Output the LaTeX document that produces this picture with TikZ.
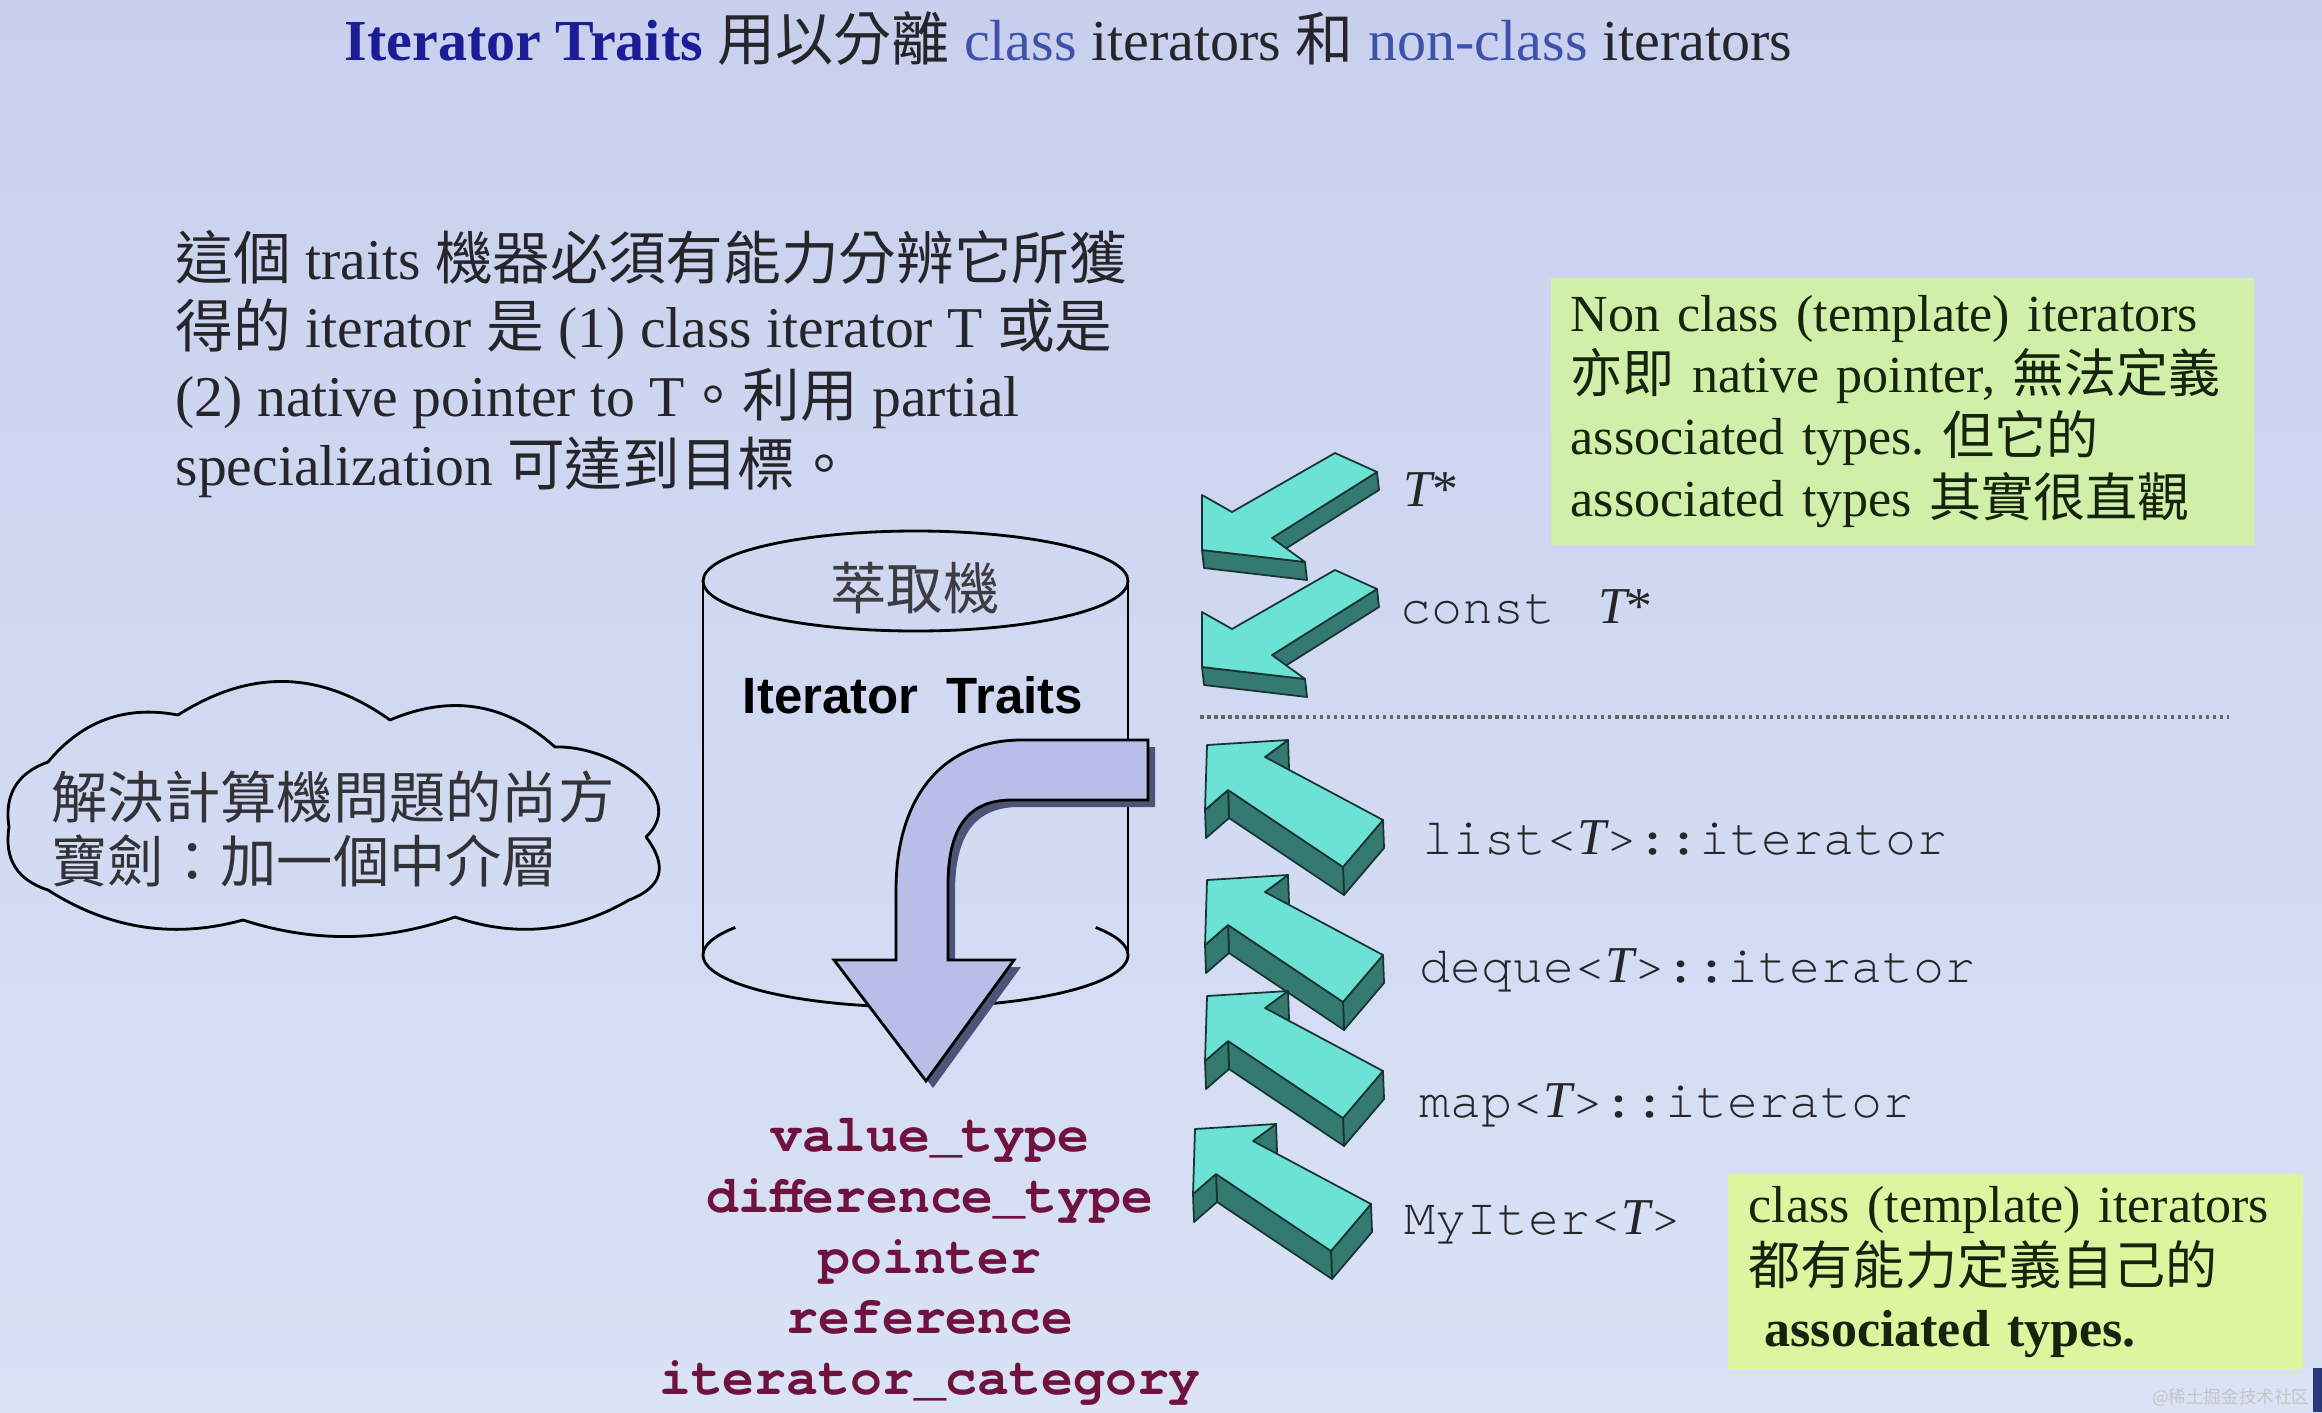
\documentclass[tikz,border=0pt]{standalone}
\usepackage{fontspec}
\setmainfont{Liberation Serif}
\setsansfont{Liberation Sans}
\setmonofont{texgyrecursor}[Extension=.otf, UprightFont=*-regular,
  BoldFont=*-bold, ItalicFont=*-italic, BoldItalicFont=*-bolditalic]
\newfontfamily\cjk{Noto Sans CJK TC}
\newfontfamily\cjksc{Noto Sans CJK SC}
\usepackage{tikz}
\usetikzlibrary{positioning}
\frenchspacing

\definecolor{bgtop}{RGB}{200,208,238}
\definecolor{bgbot}{RGB}{218,226,246}
\definecolor{titleblue}{RGB}{28,28,150}
\definecolor{wordblue}{RGB}{62,82,172}
\definecolor{inkgray}{RGB}{38,38,42}
\definecolor{cloudink}{RGB}{50,50,55}
\definecolor{cylink}{RGB}{60,60,66}
\definecolor{notegreen}{RGB}{208,240,170}
\definecolor{noteyellow}{RGB}{220,246,160}
\definecolor{noteink}{RGB}{22,36,14}
\definecolor{arrowface}{RGB}{108,226,212}
\definecolor{arrowside}{RGB}{52,122,112}
\definecolor{arrowline}{RGB}{24,52,50}
\definecolor{bendfill}{RGB}{184,190,232}
\definecolor{bendshade}{RGB}{78,84,120}
\definecolor{fieldred}{RGB}{112,18,62}
\definecolor{edgebar}{RGB}{40,56,120}

\newcommand{\zh}[1]{{\cjk #1}}
\newcommand{\tvar}{{\rmfamily\itshape T}}

\begin{document}
\begin{tikzpicture}[
    x=0.01cm, y=-0.01cm,
    txt/.style={inner sep=0pt, text=inkgray},
    para/.style={
        txt,
        align=left,
        font=\fontsize{16.4}{19.6}\selectfont
    },
    note/.style={
        fill=#1,
        inner xsep=0.2cm,
        inner ysep=0pt,
        align=left,
        text=noteink,
        font=\fontsize{14.8}{17.6}\selectfont
    },
    monolbl/.style={
        txt,
        anchor=west,
        font=\ttfamily\fontsize{14.7}{17}\selectfont
    },
    cyl/.style={draw=black, line width=0.8pt},
    cloudline/.style={draw=black, line width=0.8pt, line join=round},
    bendarrow/.style={draw=black, line width=0.8pt, fill=bendfill},
    sepline/.style={draw=gray!80!black, densely dotted, line width=1pt},
    face/.style={draw=arrowline, line width=0.5pt, fill=arrowface, line join=round},
    side/.style={draw=arrowline, line width=0.5pt, fill=arrowside, line join=round},
    % 3D arrow pointing down-left (origin at the tip)
    dlarrow/.pic={
        \fill[arrowside] (2,18) -- (2,-37) -- (32,-20) -- (135,-79) -- (177,-60)
            -- (72,6) -- (105,30) -- cycle;
        \filldraw[side] (0,0) -- (103,12) -- (105,30) -- (2,18) -- cycle;
        \filldraw[side] (175,-78) -- (70,-12) -- (72,6) -- (177,-60) -- cycle;
        \filldraw[face] (0,0) -- (0,-55) -- (30,-38) -- (133,-97) -- (175,-78)
            -- (70,-12) -- (103,12) -- cycle;
    },
    % 3D arrow pointing up-left (origin at the tip)
    ularrow/.pic={
        \fill[arrowside] (1,28) -- (82,23) -- (59,40) -- (177,103) -- (137,150)
            -- (22,73) -- (-1,93) -- cycle;
        \filldraw[side] (81,-5) -- (58,12) -- (59,40) -- (82,23) -- cycle;
        \filldraw[side] (176,75) -- (136,122) -- (137,150) -- (177,103) -- cycle;
        \filldraw[side] (136,122) -- (21,45) -- (22,73) -- (137,150) -- cycle;
        \filldraw[side] (21,45) -- (-2,65) -- (-1,93) -- (22,73) -- cycle;
        \filldraw[face] (0,0) -- (81,-5) -- (58,12) -- (176,75) -- (136,122)
            -- (21,45) -- (-2,65) -- cycle;
    }
]

% Slide background
\shade[top color=bgtop, bottom color=bgbot] (0,0) rectangle (2322,1412);
\useasboundingbox (0,0) rectangle (2322,1412);

% Title and intro text
\node[txt, anchor=base west, font=\fontsize{16.5}{20}\selectfont] (title) at (344,60)
    {\textcolor{titleblue}{\bfseries Iterator Traits} \zh{用以分離}
     \textcolor{wordblue}{class} iterators \zh{和} \textcolor{wordblue}{non-class} iterators};

\node[para, anchor=west] (intro) at (175,364) {%
    \zh{這個} traits \zh{機器必須有能力分辨它所獲}\\
    \zh{得的} iterator \zh{是} (1) class iterator T \zh{或是}\\
    (2) native pointer to T\zh{。利用} partial\\
    specialization \zh{可達到目標。}};

% Cloud on the left
\draw[cloudline] (48,762)
    .. controls (82,721) and (125,705) .. (178,715)
    .. controls (250,669) and (320,670) .. (390,720)
    .. controls (451,694) and (506,703) .. (555,747)
    .. controls (610,745) and (690,795) .. (646,837)
    .. controls (668,866) and (663,887) .. (629,900)
    .. controls (574,932) and (516,938) .. (455,917)
    .. controls (384,942) and (314,943) .. (243,920)
    .. controls (174,939) and (109,929) .. (48,890)
    .. controls (17,880) and (4,859) .. (9,827)
    .. controls (4,795) and (17,773) .. cycle;
\node[txt, align=left, text=cloudink,
    font=\cjk\fontsize{16}{18.2}\selectfont] (cloudtxt) at (333,829)
    {解決計算機問題的尚方\\寶劍：加一個中介層};

% Cylinder (traits machine)
\draw[cyl] (703,581) -- (703,955) (1128,581) -- (1128,955);
\draw[cyl] (915.5,581) ellipse[x radius=212.5, y radius=50];
\draw[cyl] (1128,955) arc[start angle=0, end angle=180, x radius=212.5, y radius=52];
\draw[cyl] (703,955) arc[start angle=180, end angle=212, x radius=212.5, y radius=52];
\draw[cyl] (1128,955) arc[start angle=360, end angle=328, x radius=212.5, y radius=52];

\node[txt, text=cylink, font=\cjk\fontsize{16}{18}\selectfont]
    (cylname) at (915,588) {萃取機};
\node[txt, text=black, font=\sffamily\bfseries\fontsize{14.5}{17}\selectfont]
    (cyltitle) at (913,695) {Iterator\ \ Traits};

% Bent arrow out of the cylinder
\fill[bendshade, shift={(7,7)}] (1148,740) -- (1022,740)
    .. controls (940,740) and (896,800) .. (896,890) -- (896,960)
    -- (834,960) -- (926,1081) -- (1014,960) -- (948,960) -- (948,885)
    .. controls (948,828) and (968,800) .. (1012,800) -- (1148,800) -- cycle;
\filldraw[bendarrow] (1148,740) -- (1022,740)
    .. controls (940,740) and (896,800) .. (896,890) -- (896,960)
    -- (834,960) -- (926,1081) -- (1014,960) -- (948,960) -- (948,885)
    .. controls (948,828) and (968,800) .. (1012,800) -- (1148,800) -- cycle;

% Associated types
\node[txt, text=fieldred, align=center,
    font=\ttfamily\bfseries\fontsize{15.1}{17.3}\selectfont] (fields) at (930,1262)
    {value\_type\\difference\_type\\pointer\\reference\\iterator\_category};

% Native pointers
\pic at (1202,550) {dlarrow};
\pic at (1202,667) {dlarrow};
\node[monolbl] (lblptr) at (1403,490) {\tvar{\rmfamily *}};
\node[monolbl] (lblcptr) at (1400,607) {const\hspace{12pt}\tvar{\rmfamily *}};

\coordinate (sepL) at (1200,717);
\coordinate (sepR) at (2229,717);
\draw[sepline] (sepL) -- (sepR);

% Class iterators
\pic at (1207,745) {ularrow};
\pic at (1207,880) {ularrow};
\pic at (1207,996) {ularrow};
\pic at (1195,1129) {ularrow};
\node[monolbl] (lbllist) at (1422,838) {list<\tvar>::iterator};
\node[monolbl] (lbldeque) at (1419,970) {deque<\tvar>::iterator};
\node[monolbl] (lblmap) at (1419,1105) {map<\tvar>::iterator};
\node[monolbl] (lblmyiter) at (1404,1222) {MyIter<\tvar>};

% Green notes
\node[note=notegreen, minimum width=7.03cm, minimum height=2.67cm, text width=6.63cm]
    (noteptr) at (1902.5,411.5) {%
    Non class (template) iterators\\
    \zh{亦即} native pointer, \zh{無法定義}\\
    associated types. \zh{但它的}\\
    associated types \zh{其實很直觀}};
\node[note=noteyellow, minimum width=5.75cm, minimum height=1.96cm, text width=5.33cm]
    (noteclass) at (2015.5,1272) {%
    class (template) iterators\\
    \zh{都有能力定義自己的}\\
    \hspace{0.3em}\textbf{associated types.}};

% Watermark
\node[txt, anchor=east, text=white!55!gray, font=\cjksc\fontsize{5}{6}\selectfont]
    (mark) at (2310,1398) {@稀土掘金技术社区};
\fill[edgebar] (2313,1368) rectangle (2322,1412);

\end{tikzpicture}
\end{document}
